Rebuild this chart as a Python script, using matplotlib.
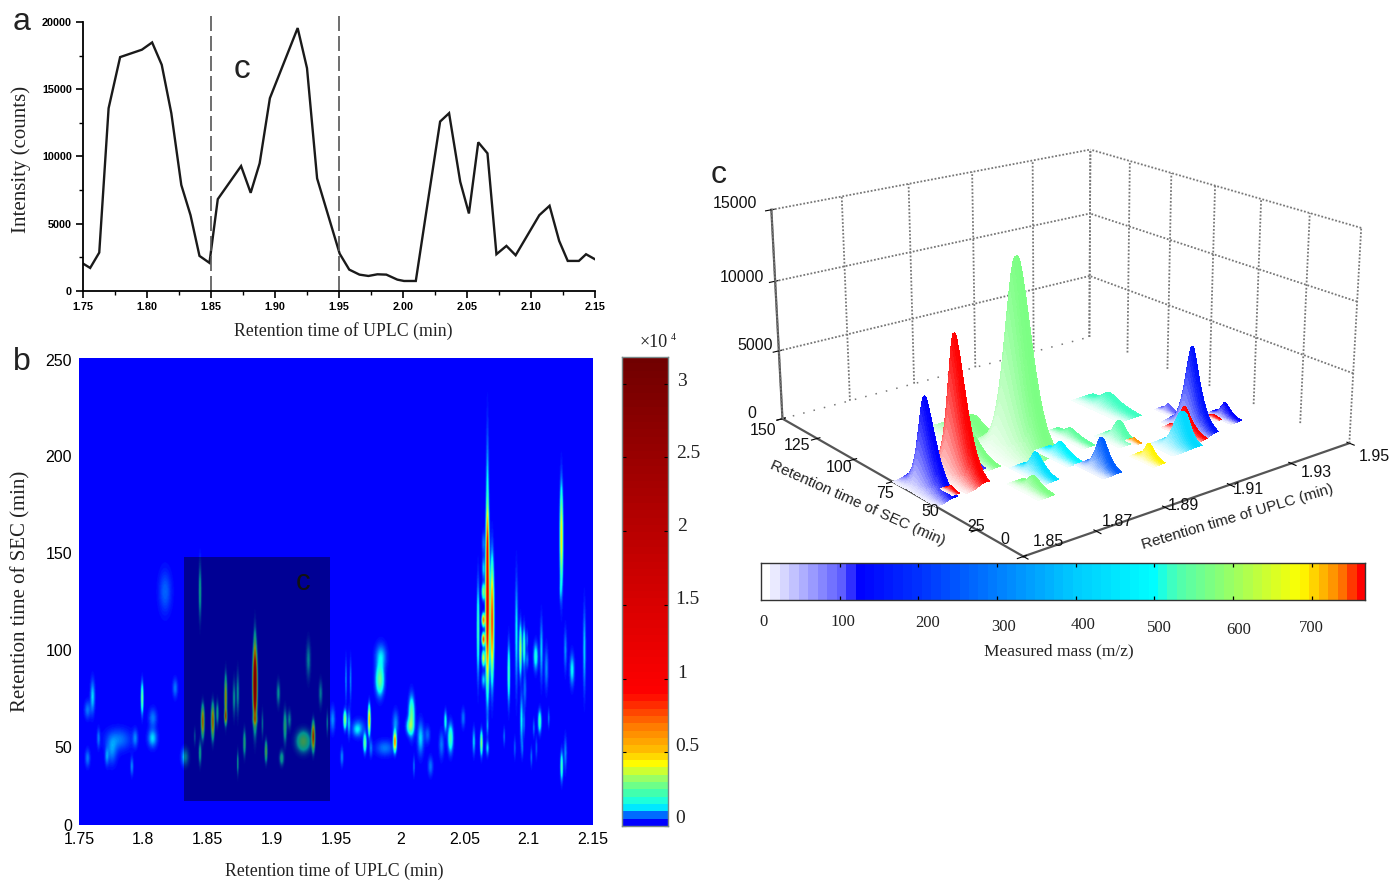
import numpy as np
import matplotlib
matplotlib.use('Agg')
import matplotlib.pyplot as plt
from matplotlib.colors import LinearSegmentedColormap, to_rgb
from matplotlib.patches import Rectangle

SERIF = 'Liberation Serif'
SANS = 'Liberation Sans'

# panel a: chromatogram
uplc_time = [1.75, 1.7556, 1.7627, 1.770, 1.779, 1.796, 1.804, 1.8115, 1.819, 1.8268, 1.834, 1.841, 1.8488,
             1.8553, 1.8735, 1.881, 1.888, 1.896, 1.9177, 1.925, 1.9329, 1.9505, 1.958, 1.966, 1.973, 1.980,
             1.987, 1.9956, 2.0008, 2.010, 2.018, 2.029, 2.036, 2.0447, 2.0515, 2.0588, 2.066, 2.073, 2.0808,
             2.088, 2.1065, 2.1145, 2.122, 2.1287, 2.1374, 2.143, 2.15]
uplc_counts = [2040, 1714, 2857, 13590, 17390, 17940, 18480, 16820, 13220, 7880, 5640, 2610, 2090,
               6830, 9290, 7300, 9490, 14335, 19550, 16570, 8370, 2780, 1590, 1217, 1118, 1242,
               1217, 845, 745, 745, 5764, 12600, 13220, 8124, 5764, 11056, 10236, 2733, 3354,
               2658, 5640, 6335, 3727, 2236, 2236, 2733, 2360]

# panel b: spots (time, SEC time, half width, half height, intensity x 10^4)
spot_rt = [1.8441, 1.8169, 1.7604, 1.7565, 1.7990, 1.8247, 1.8073, 1.8071, 1.7650, 1.7806, 1.7754, 1.7936, 1.7565,
           1.7715, 1.7910, 1.8325, 1.8441, 1.8400, 1.8462, 1.8540, 1.8576, 1.8641, 1.8641, 1.8706, 1.8735, 1.8869,
           1.8869, 1.8869, 1.8869, 1.8927, 1.9051, 1.9285, 1.9380, 1.8787, 1.8955, 1.8735, 1.9077, 1.9103, 1.9137,
           1.9246, 1.9323, 1.9432, 1.9474, 1.9570, 1.9601, 1.9578, 1.9614, 1.9661, 1.9546,
           2.0680, 2.0680, 2.0716, 2.0649, 2.0649, 2.0649, 2.0649, 2.0649, 2.0649, 2.0649, 2.0607, 2.1256, 2.1248,
           2.0906, 2.0846, 2.0937, 2.0965, 2.0989, 2.0989, 2.1056, 2.1100, 2.1139, 2.1287, 2.1339, 2.1435, 2.0971,
           2.0945, 2.0965, 2.1087, 2.1041, 2.1157, 1.9850, 1.9842, 1.9759, 1.9725, 1.9772, 1.9679, 1.9881, 1.9964,
           1.9959, 2.0089, 2.0076, 2.0159, 2.0213, 2.0353, 2.0392, 2.0322, 2.0491, 2.0574, 2.0633, 2.0680, 2.0680,
           2.0810, 2.0893, 2.0952, 2.1022, 2.1061, 2.1287, 2.1258, 2.0107, 2.0236, 2.0680]
spot_sec = [124.9, 124.9, 68.7, 61.6, 67.9, 73.2, 57.2, 46.4, 46.4, 45.6, 39.3, 46.4, 35.7,
            36.6, 31.3, 36.3, 38.4, 47.3, 55.4, 55.4, 59.8, 67.9, 58.0, 67.9, 70.5, 73.0,
            92.0, 79.5, 56.3, 54.1, 70.5, 88.4, 70.5, 43.8, 39.3, 33.1, 35.7, 52.7, 56.3,
            44.7, 47.3, 54.5, 56.3, 56.3, 54.5, 77.7, 77.7, 50.9, 36.3,
            118.0, 172.2, 109.8, 150.8, 137.4, 124.9, 109.8, 99.4, 89.2, 77.6, 104.4, 154.4, 125.8,
            102.6, 81.2, 93.7, 95.5, 99.1, 88.4, 90.1, 93.7, 83.9, 93.7, 83.0, 93.7, 72.3,
            56.2, 54.5, 55.4, 51.8, 57.1, 90.1, 77.6, 56.2, 43.8, 41.1, 51.8, 41.1, 54.5,
            44.6, 58.9, 52.7, 46.4, 48.2, 55.4, 46.4, 42.9, 57.1, 44.6, 43.8, 52.7, 41.1,
            47.3, 41.1, 41.1, 36.3, 41.1, 38.4, 31.3, 31.3, 31.3, 150.0]
spot_dt = [.0008, .0031, .0013, .0016, .0008, .0013, .0021, .0026, .0008, .0065, .0026, .0013, .0013,
           .0010, .0008, .0021, .0008, .0005, .0010, .0010, .0008, .0008, .0008, .0008, .0008, .0013,
           .0008, .0013, .0013, .0005, .0010, .0013, .0010, .0008, .0008, .0005, .0013, .0010, .0010,
           .0044, .0010, .0005, .0013, .0010, .0008, .0005, .0005, .0021, .0008,
           .0012, .0008, .0012, .0008, .0008, .0010, .0010, .0010, .0010, .0010, .0008, .0010, .0005,
           .0008, .0008, .0008, .0008, .0005, .0008, .0013, .0008, .0010, .0008, .0013, .0008, .0008,
           .0008, .0005, .0010, .0005, .0005, .0031, .0026, .0008, .0010, .0008, .0031, .0047, .0016,
           .0010, .0018, .0021, .0018, .0013, .0008, .0016, .0013, .0010, .0008, .0008, .0005, .0008,
           .0005, .0005, .0005, .0005, .0005, .0008, .0008, .0005, .0013, .0008]
spot_ds = [14.3, 8, 8, 3.6, 8.9, 3.9, 3.9, 4.5, 3.9, 4.5, 5.4, 3.6, 3.6,
           3.6, 3.9, 4.3, 6.2, 3.6, 9.8, 10.7, 6.2, 13.4, 4.5, 8.9, 10.7, 24,
           14.3, 17, 2.7, 6.2, 6.2, 8.9, 6.2, 7.1, 6.2, 6.2, 3.9, 8.9, 4.5,
           6.2, 8.9, 5.4, 5.4, 5.4, 6.2, 8.9, 8.9, 2.7, 3.9,
           51, 35.7, 35.7, 4.5, 5.4, 4.5, 3.9, 3.9, 4.5, 3.6, 25, 30, 4.5,
           26.8, 16, 14.3, 10.7, 3.6, 3.6, 7.1, 14.3, 8.9, 8.9, 8, 19.6, 7.1,
           12.5, 5.4, 6.2, 3.6, 3.6, 6.2, 8.9, 8.9, 5.4, 3.6, 3.6, 3.2, 5.4,
           6.2, 10.7, 4.5, 8, 3.2, 5.4, 8, 5.4, 3.9, 6.2, 7.1, 3.6, 3.6,
           3.6, 3.9, 3.6, 3.9, 3.9, 7.1, 8, 3.9, 3.9, 22]
spot_amp = [.15, .05, .1, .06, .25, .06, .06, .1, .06, .06, .06, .06, .06,
            .06, .07, .1, .15, .07, .6, .6, .15, .5, .6, .12, .12, 1.3,
            .15, .5, .25, .1, .12, .1, .1, .2, .3, .15, .15, .2, .1,
            .25, .8, .1, .07, .3, .1, .07, .07, .06, .07,
            1.3, .12, .8, .06, .1, .3, .7, .8, .4, .1, .2, .45, .06,
            .12, .2, .35, .2, .06, .06, .15, .1, .07, .07, .12, .1, .06,
            .12, .06, .2, .06, .06, .1, .25, .55, .25, .06, .06, .06, .07,
            .65, .25, .2, .1, .05, .15, .2, .06, .06, .1, .3, .06, .1,
            .06, .05, .05, .06, .05, .07, .2, .06, .06, .45]

# panel b: colour scale stops (value x 10^4, colour)
map_stops = [0, .03, .06, .11, .2, .31, .4, .49, .65, .89, 3.18]
map_colors = ['#0000ff', '#0040ff', '#0080ff', '#00ffff', '#40ffb0', '#a0ff60', '#ffff00', '#ffc000', '#ff8000',
              '#ff0000', '#700000']
map_vmax = 3.18

# panel c: peaks (UPLC time, SEC time, intensity, measured mass, width along SEC, width along UPLC)
peak_rt = [1.855, 1.865, 1.886, 1.883, 1.874, 1.871, 1.858, 1.880, 1.874, 1.891, 1.900, 1.894, 1.921, 1.909,
           1.910, 1.906, 1.919, 1.924, 1.930, 1.928, 1.936, 1.939]
peak_sec = [65, 68, 74, 98, 77, 72, 57, 52, 42, 59, 70, 41, 86, 58, 51, 36, 40, 47, 66, 50, 50, 49]
peak_height = [6200, 9700, 13500, 1000, 1400, 600, 250, 1300, 700, 800, 500, 2000, 800, 1150, 200, 1000, 2160,
               1800, 450, 5800, 150, 900]
peak_mass = [130, 768, 575, 575, 575, 110, 768, 440, 575, 470, 550, 260, 520, 530, 720, 695, 420, 768, 100, 150,
             768, 130]
peak_sigma = [5.5, 5.7, 7, 6, 5, 2.7, 1.5, 4, 3.7, 4, 4.5, 3.3, 6, 3, 1.2, 2.7, 2.9, 4, 2, 4.7, 1.3, 2.9]
peak_width = [.0025, .0028, .005, .005, .002, .0012, .0008, .002, .002, .002, .0016, .0024, .003, .0024, .0008,
              .0016, .004, .0016, .0012, .0024, .0008, .0016]

# panel c: mass colour scale
mass_stops = [0, 100, 120, 200, 300, 400, 500, 530, 600, 690, 710, 740, 768]
mass_colors = ['#ffffff', '#5a5aff', '#0000ff', '#0033ff', '#0080ff', '#00ccff', '#00ffff', '#4dffb3', '#99ff66',
               '#ffff00', '#ffcc00', '#ff8000', '#ff0000']
mass_vmax = 768

W, H = 1391, 880
fig = plt.figure(figsize=(W / 100, H / 100), dpi=100, facecolor='white')


def px_axes(x0, y0, x1, y1, **kw):
    # axes from picture pixels (y counted from the top)
    return fig.add_axes([x0 / W, 1 - y1 / H, (x1 - x0) / W, (y1 - y0) / H], **kw)


def px_text(x, y, s, **kw):
    kw.setdefault('ha', 'center')
    kw.setdefault('va', 'center')
    return fig.text(x / W, 1 - y / H, s, **kw)


# ---------- panel a ----------
ax_a = px_axes(83, 22, 595, 291)
ax_a.plot(uplc_time, uplc_counts, color='#1a1a1a', lw=1.7, solid_joinstyle='miter')
ax_a.vlines([1.85, 1.95], 0, 20520, color='#555555', lw=1.2, linestyles=(0, (9, 3)), clip_on=False)
ax_a.set_xlim(1.75, 2.15)
ax_a.set_ylim(0, 20000)
ax_a.spines['top'].set_visible(False)
ax_a.spines['right'].set_visible(False)
ax_a.spines['left'].set_linewidth(1.3)
ax_a.spines['bottom'].set_linewidth(1.3)
ax_a.set_xticks(np.arange(1.75, 2.16, 0.05))
ax_a.set_xticks(np.arange(1.75, 2.16, 0.025), minor=True)
ax_a.set_yticks(np.arange(0, 20001, 5000))
ax_a.set_yticks(np.arange(0, 20001, 2500), minor=True)
ax_a.set_xticklabels(['%.2f' % v for v in np.arange(1.75, 2.16, 0.05)], family=SANS, weight='bold', fontsize=7.8)
ax_a.set_yticklabels(['0', '5000', '10000', '15000', '20000'], family=SANS, weight='bold', fontsize=7.8)
ax_a.tick_params(which='major', length=5, width=1.2, pad=3)
ax_a.tick_params(which='minor', length=3, width=1)
px_text(343, 331, 'Retention time of UPLC (min)', family=SERIF, fontsize=12.8, color='#222222')
px_text(21, 159, 'Intensity (counts)', family=SERIF, fontsize=15, rotation=90, color='#222222')
px_text(22, 22, 'a', family=SANS, fontsize=23, color='#222222')
px_text(242, 69, 'c', family=SANS, fontsize=24, color='#222222')

# ---------- panel b ----------
ax_b = px_axes(79, 358, 593, 825)
grid_t = np.linspace(1.75, 2.15, 1000)
grid_s = np.linspace(0, 250, 700)
tt, ss = np.meshgrid(grid_t, grid_s)
field = np.zeros_like(tt)
for rt, sec, dt, ds, amp in zip(spot_rt, spot_sec, spot_dt, spot_ds, spot_amp):
    # half width and height are what is seen above the background, so they shrink with the intensity
    seen = np.sqrt(2 * np.log(amp / 0.02))
    field += amp * np.exp(-0.5 * ((tt - rt) / (dt * 1.3 / seen ** 0.6)) ** 2 - 0.5 * ((ss - sec) / (ds * 1.3 / seen)) ** 2)
map_pairs = [(v / map_vmax, to_rgb(c)) for v, c in zip(map_stops, map_colors)]
map_cmap = LinearSegmentedColormap.from_list('map', map_pairs, N=64)
ax_b.imshow(field, extent=[1.75, 2.15, 0, 250], origin='lower', aspect='auto',
            cmap=LinearSegmentedColormap.from_list('mapfine', map_pairs, N=512), vmin=0, vmax=map_vmax,
            interpolation='bilinear')
ax_b.add_patch(Rectangle((1.8315, 12.8), 0.1135, 130.7, facecolor='black', alpha=0.42, edgecolor='none'))
ax_b.set_xticks(np.arange(1.75, 2.16, 0.05))
ax_b.set_xticklabels(['1.75', '1.8', '1.85', '1.9', '1.95', '2', '2.05', '2.1', '2.15'], family=SANS, fontsize=11.5)
# the printed labels are not evenly spaced in the reference
ax_b.set_yticks([0, 41.7, 93.7, 145.6, 197.5, 249])
ax_b.set_yticklabels(['0', '50', '100', '150', '200', '250'], family=SANS, fontsize=11.5)
ax_b.tick_params(length=0, pad=5)
for s in ax_b.spines.values():
    s.set_visible(False)
px_text(334, 871, 'Retention time of UPLC (min)', family=SERIF, fontsize=12.8, color='#222222')
px_text(21, 591, 'Retention time of SEC (min)', family=SERIF, fontsize=15, rotation=90, color='#222222')
px_text(22, 362, 'b', family=SANS, fontsize=23, color='#222222')
px_text(303, 582, 'c', family=SANS, fontsize=21, color='#111111')

# colour bar of panel b
ax_bar = px_axes(622, 357, 668, 826)
ax_bar.imshow(np.linspace(0, map_vmax, 256)[:, None], extent=[0, 1, 0, map_vmax], origin='lower', aspect='auto',
              cmap=map_cmap, vmin=0, vmax=map_vmax, interpolation='nearest')
ax_bar.set_xticks([])
ax_bar.yaxis.tick_right()
bar_ticks = [0, .5, 1, 1.5, 2, 2.5, 3]
ax_bar.set_yticks(bar_ticks)
ax_bar.set_yticklabels([])
ax_bar.tick_params(axis='y', direction='in', left=True, right=True, length=3, width=0.8)
for s in ax_bar.spines.values():
    s.set_color('#778888')
    s.set_linewidth(1)
bar_label_px = [(680, 818), (687, 746), (682, 673), (687, 599), (682, 526), (688, 453), (682, 381)]
for (x, y), t in zip(bar_label_px, ['0', '0.5', '1', '1.5', '2', '2.5', '3']):
    px_text(x, y, t, family=SERIF, fontsize=14, color='#222222')
px_text(654, 342, '\u00d710', family=SERIF, fontsize=13, color='#222222')
px_text(673, 337, '4', family=SERIF, fontsize=7, color='#222222')

# ---------- panel c ----------
mass_cmap = LinearSegmentedColormap.from_list('mass', [(v / mass_vmax, to_rgb(c)) for v, c in zip(mass_stops, mass_colors)], N=64)
# mplot3d keeps its axes square, so give it a square box
ax_c = px_axes(712, -4, 1392, 676, projection='3d', computed_zorder=False)
ax_c.patch.set_alpha(0)
ax_c.set_proj_type('persp', focal_length=0.5)
ax_c.view_init(elev=19, azim=-128.5)
ax_c.set_box_aspect((1, 1, 0.545), zoom=0.89)
ax_c.set_xlim(1.85, 1.95)
ax_c.set_ylim(0, 150)
ax_c.set_zlim(0, 15000)
ax_c.grid(False)
for axis in (ax_c.xaxis, ax_c.yaxis, ax_c.zaxis):
    axis.set_pane_color((1, 1, 1, 0))
    axis.pane.set_edgecolor((1, 1, 1, 0))
    axis.line.set_color('#555555')
    axis.line.set_linewidth(1.6)

x_ticks = [1.85, 1.87, 1.89, 1.91, 1.93, 1.95]
y_ticks = [0, 25, 50, 75, 100, 125, 150]
z_ticks = [0, 5000, 10000, 15000]
dot = dict(color='#777777', lw=1.3, ls=(0, (1, 1)), zorder=1)
for x in x_ticks:
    ax_c.plot([x, x], [150, 150], [0, 15000], **dot)
for y in y_ticks:
    ax_c.plot([1.95, 1.95], [y, y], [0, 15000], **dot)
for z in z_ticks[1:]:
    ax_c.plot([1.85, 1.95], [150, 150], [z, z], **dot)
    ax_c.plot([1.95, 1.95], [0, 150], [z, z], **dot)
ax_c.plot([1.85, 1.95], [150, 150], [0, 0], color='#777777', lw=1.1, ls=(0, (1, 6)), zorder=1)

ax_c.set_xticks(x_ticks)
ax_c.set_xticklabels([])
ax_c.set_yticks(y_ticks)
ax_c.set_yticklabels([])
ax_c.set_zticks(z_ticks)
ax_c.set_zticklabels([])

# far peaks first
depth = [(rt - 1.85) / 0.1 * 0.8 + sec / 150 * 0.6 for rt, sec in zip(peak_rt, peak_sec)]
for n, i in enumerate(np.argsort(depth)[::-1]):
    u = np.linspace(-3, 0.6, 22)
    v = np.linspace(-3, 3, 40)
    uu, vv = np.meshgrid(u, v)
    g_u = np.exp(-0.5 * uu ** 2)
    g_v = np.exp(-0.7 * np.abs(vv) ** 1.4)
    col = np.array(mass_cmap(peak_mass[i] / mass_vmax)[:3])
    f = (g_u ** 0.6)[..., None]
    rgba = np.concatenate([1 - f * (1 - col), np.ones_like(f)], axis=2)
    # the side towards longer SEC times is the steeper one
    sec_offset = vv * peak_sigma[i] * np.where(vv < 0, 1.0, 0.6)
    ax_c.plot_surface(peak_rt[i] + uu * peak_width[i] / 1.5, peak_sec[i] + sec_offset, peak_height[i] * g_u * g_v,
                      facecolors=rgba, rstride=1, cstride=1, shade=False, linewidth=0, antialiased=False, zorder=5 + n)

z_label_px = [(752, 413), (755, 346), (742, 277), (735, 203)]
for (x, y), t in zip(z_label_px, z_ticks):
    px_text(x, y, str(t), family=SANS, fontsize=11.5, color='#111111')
y_label_px = [(1005, 540), (976, 526), (930, 512), (885, 493), (839, 467), (797, 445), (763, 430)]
for (x, y), t in zip(y_label_px, y_ticks):
    px_text(x, y, str(t), family=SANS, fontsize=11.5, color='#111111')
x_label_px = [(1048, 541), (1117, 522), (1183, 505), (1248, 489), (1316, 472), (1374, 456)]
for (x, y), t in zip(x_label_px, x_ticks):
    px_text(x, y, '%.2f' % t, family=SANS, fontsize=11.5, color='#111111')

px_text(719, 175, 'c', family=SANS, fontsize=23, color='#222222')
px_text(858, 503, 'Retention time of SEC (min)', family=SANS, fontsize=11, rotation=-24, color='#222222')
px_text(1238, 517, 'Retention time of UPLC (min)', family=SANS, fontsize=11, rotation=16.5, color='#222222')

# mass colour bar
ax_mass = px_axes(761, 563, 1365, 600)
ax_mass.imshow(np.linspace(0, mass_vmax, 512)[None, :], extent=[0, mass_vmax, 0, 1], aspect='auto', cmap=mass_cmap,
               vmin=0, vmax=mass_vmax, interpolation='nearest')
ax_mass.set_yticks([])
mass_ticks = [100, 200, 300, 400, 500, 600, 700]
ax_mass.set_xticks(mass_ticks)
ax_mass.set_xticklabels([])
ax_mass.tick_params(axis='x', direction='in', top=True, bottom=True, length=3, width=0.9)
for s in ax_mass.spines.values():
    s.set_color('#333333')
    s.set_linewidth(1)
mass_label_px = [(764, 622), (843, 622), (928, 623), (1004, 627), (1083, 625), (1159, 628), (1239, 630), (1311, 628)]
for (x, y), t in zip(mass_label_px, [0] + mass_ticks):
    px_text(x, y, str(t), family=SERIF, fontsize=12, color='#222222')
px_text(1059, 651, 'Measured mass (m/z)', family=SERIF, fontsize=12.5, color='#222222')

fig.savefig('out.png', dpi=100)
